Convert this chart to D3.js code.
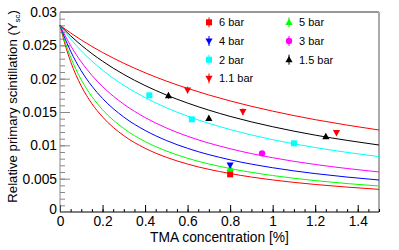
<!DOCTYPE html>
<html>
<head>
<meta charset="utf-8">
<script src="https://cdn.jsdelivr.net/npm/d3@7"></script>
<style>
  body { margin: 0; background: #fff; }
  svg { display: block; font-family: "Liberation Sans", Arial, Helvetica, sans-serif; }
</style>
</head>
<body>
<div id="chart"></div>
<script>
// fitted curves at these concentrations
var curveX = [0, 0.025, 0.05, 0.1, 0.15, 0.2, 0.3, 0.4, 0.5, 0.6, 0.8, 1.0, 1.2, 1.5];
var curve11 = [0.028, 0.02742, 0.02686, 0.02580, 0.02483, 0.02393, 0.02231, 0.02089, 0.01964, 0.01854, 0.01666, 0.01513, 0.01385, 0.01230];
var curve15 = [0.028, 0.02719, 0.02643, 0.02502, 0.02376, 0.02262, 0.02063, 0.01897, 0.01755, 0.01634, 0.01434, 0.01279, 0.01153, 0.01005];
var curve2 = [0.028, 0.02694, 0.02595, 0.02418, 0.02264, 0.02128, 0.01900, 0.01716, 0.01564, 0.01437, 0.01237, 0.01085, 0.00967, 0.00831];
var curve3 = [0.028, 0.02639, 0.02496, 0.02251, 0.02050, 0.01882, 0.01617, 0.01417, 0.01261, 0.01136, 0.00949, 0.00814, 0.00713, 0.00601];
var curve4 = [0.028, 0.02591, 0.02412, 0.02118, 0.01888, 0.01703, 0.01424, 0.01224, 0.01073, 0.00955, 0.00783, 0.00664, 0.00576, 0.00480];
var curve5 = [0.028, 0.02539, 0.02322, 0.01983, 0.01731, 0.01535, 0.01252, 0.01057, 0.00915, 0.00806, 0.00652, 0.00547, 0.00471, 0.00390];
var curve6 = [0.028, 0.02499, 0.02256, 0.01889, 0.01625, 0.01426, 0.01145, 0.00956, 0.00821, 0.00719, 0.00577, 0.00481, 0.00413, 0.00340];

// measured points
var labels = ["6 bar", "5 bar", "4 bar", "3 bar", "2 bar", "1.5 bar", "1.1 bar"];
var ptsX6 = [0.8],  ptsY6 = [0.00565], err6 = [0.0002];
var ptsX5 = [0.8],  ptsY5 = [0.00655], err5 = [0.0002];
var ptsX4 = [0.8],  ptsY4 = [0.00705], err4 = [0.0002];
var ptsX3 = [0.95], ptsY3 = [0.0088],  err3 = [0.0002];
var ptsX2 = [0.42, 0.62, 1.1],  ptsY2 = [0.0175, 0.0139, 0.0103],   err2 = [0.0003, 0.0003, 0.0003];
var ptsX15 = [0.51, 0.70, 1.25], ptsY15 = [0.01745, 0.01405, 0.0113], err15 = [0.00045, 0.0003, 0.0003];
var ptsX11 = [0.60, 0.86, 1.30], ptsY11 = [0.0183, 0.01505, 0.0119], err11 = [0.0005, 0.0005, 0.0004];

var xTicks = [0, 0.2, 0.4, 0.6, 0.8, 1, 1.2, 1.4];
var yTicks = [0, 0.005, 0.01, 0.015, 0.02, 0.025, 0.03];

var series = [
  { label: labels[0], color: "#ff0000", shape: "square", curve: curve6,  x: ptsX6,  y: ptsY6,  e: err6 },
  { label: labels[1], color: "#00ff00", shape: "up",     curve: curve5,  x: ptsX5,  y: ptsY5,  e: err5 },
  { label: labels[2], color: "#0000ff", shape: "down",   curve: curve4,  x: ptsX4,  y: ptsY4,  e: err4 },
  { label: labels[3], color: "#ff00ff", shape: "circle", curve: curve3,  x: ptsX3,  y: ptsY3,  e: err3 },
  { label: labels[4], color: "#00ffff", shape: "square", curve: curve2,  x: ptsX2,  y: ptsY2,  e: err2 },
  { label: labels[5], color: "#000000", shape: "up",     curve: curve15, x: ptsX15, y: ptsY15, e: err15 },
  { label: labels[6], color: "#ff0000", shape: "down",   curve: curve11, x: ptsX11, y: ptsY11, e: err11 }
];

var width = 399, height = 250;
var margin = { left: 60, right: 20, top: 12, bottom: 38 };

var x = d3.scaleLinear().domain([0, 1.5]).range([margin.left, width - margin.right]);
var y = d3.scaleLinear().domain([0, 0.03]).range([height - margin.bottom, margin.top]);

var svg = d3.select("#chart").append("svg")
  .attr("width", width)
  .attr("height", height);

// frame
svg.append("line").attr("x1", x(0)).attr("x2", x(1.5)).attr("y1", y(0.03)).attr("y2", y(0.03))
  .attr("stroke", "#333").attr("stroke-width", 1);
svg.append("line").attr("x1", x(1.5)).attr("x2", x(1.5)).attr("y1", y(0.03)).attr("y2", y(0))
  .attr("stroke", "#aaa").attr("stroke-width", 2);

// minor ticks
svg.append("g")
  .attr("transform", "translate(0," + y(0) + ")")
  .call(d3.axisBottom(x).ticks(30).tickSize(-3).tickFormat(""))
  .call(function(g) { g.select(".domain").remove(); });
svg.append("g")
  .attr("transform", "translate(" + x(0) + ",0)")
  .call(d3.axisLeft(y).ticks(30).tickSize(-5).tickFormat(""))
  .call(function(g) { g.select(".domain").remove(); g.selectAll("line").attr("stroke", "#888"); });

// major ticks
var xAxis = svg.append("g")
  .attr("transform", "translate(0," + y(0) + ")")
  .call(d3.axisBottom(x).tickValues(xTicks).tickSize(-7).tickPadding(4.5).tickFormat(d3.format("")));
xAxis.select(".domain").attr("d", "M" + x(0) + ",0H" + x(1.5)).attr("stroke", "#000");
xAxis.selectAll("text").attr("font-size", 13.8).attr("fill", "#000");

var yAxis = svg.append("g")
  .attr("transform", "translate(" + x(0) + ",0)")
  .call(d3.axisLeft(y).tickValues(yTicks).tickSize(-10).tickPadding(3).tickFormat(d3.format("")));
yAxis.select(".domain").attr("d", "M0," + y(0) + "V" + y(0.03)).attr("stroke", "#888");
yAxis.selectAll("line").attr("stroke", "#888");
yAxis.selectAll("text").attr("font-size", 13.8).attr("fill", "#000");
yAxis.selectAll(".tick").filter(function(d) { return d === 0; }).select("text").attr("dy", "0.1em");

// curves
var line = d3.line()
  .x(function(d, i) { return x(curveX[i]); })
  .y(function(d) { return y(d); })
  .curve(d3.curveMonotoneX);

svg.append("g").selectAll("path")
  .data(series)
  .enter()
  .append("path")
  .attr("d", function(d) { return line(d.curve); })
  .attr("fill", "none")
  .attr("stroke", function(d) { return d.color; })
  .attr("stroke-width", 1);

function marker(g, shape, color) {
  if (shape === "square") {
    g.append("rect").attr("x", -3).attr("y", -3).attr("width", 6).attr("height", 6).attr("fill", color);
  } else if (shape === "circle") {
    g.append("circle").attr("r", 3.2).attr("fill", color);
  } else if (shape === "up") {
    g.append("path").attr("d", "M0,-3.8L3.6,2.6L-3.6,2.6Z").attr("fill", color);
  } else {
    g.append("path").attr("d", "M0,3.8L3.6,-2.6L-3.6,-2.6Z").attr("fill", color);
  }
}

// data points with error bars
series.forEach(function(s) {
  s.x.forEach(function(v, i) {
    var g = svg.append("g").attr("transform", "translate(" + x(v) + "," + y(s.y[i]) + ")");
    g.append("line")
      .attr("y1", y(s.y[i] + s.e[i]) - y(s.y[i]))
      .attr("y2", y(s.y[i] - s.e[i]) - y(s.y[i]))
      .attr("stroke", s.color).attr("stroke-width", 1);
    marker(g, s.shape, s.color);
  });
});

// legend
var legend = svg.selectAll(".legend")
  .data(series)
  .enter()
  .append("g")
  .attr("class", "legend")
  .attr("transform", function(d, i) {
    var col = i % 2, row = Math.floor(i / 2);
    return "translate(" + (209 + col * 80) + "," + (22.3 + row * 18.7) + ")";
  });

legend.each(function(d) {
  var g = d3.select(this);
  g.append("line").attr("y1", -5).attr("y2", 5).attr("stroke", d.color);
  marker(g, d.shape, d.color);
});

legend.append("text")
  .attr("x", 10)
  .attr("dy", "0.36em")
  .attr("font-size", 11)
  .attr("fill", "#000")
  .text(function(d) { return d.label; });

// axis titles
svg.append("text")
  .attr("x", (x(0) + x(1.5)) / 2)
  .attr("y", 242)
  .attr("text-anchor", "middle")
  .attr("font-size", 13.8)
  .text("TMA concentration [%]");

var yTitle = svg.append("text")
  .attr("transform", "translate(17," + 10 + ") rotate(-90)")
  .attr("text-anchor", "end")
  .attr("font-size", 13.2);
yTitle.append("tspan").text("Relative primary scintillation (Y");
yTitle.append("tspan").attr("font-size", 8).attr("dy", 3).text("sc");
yTitle.append("tspan").attr("dy", -3).text(")");
</script>
</body>
</html>
